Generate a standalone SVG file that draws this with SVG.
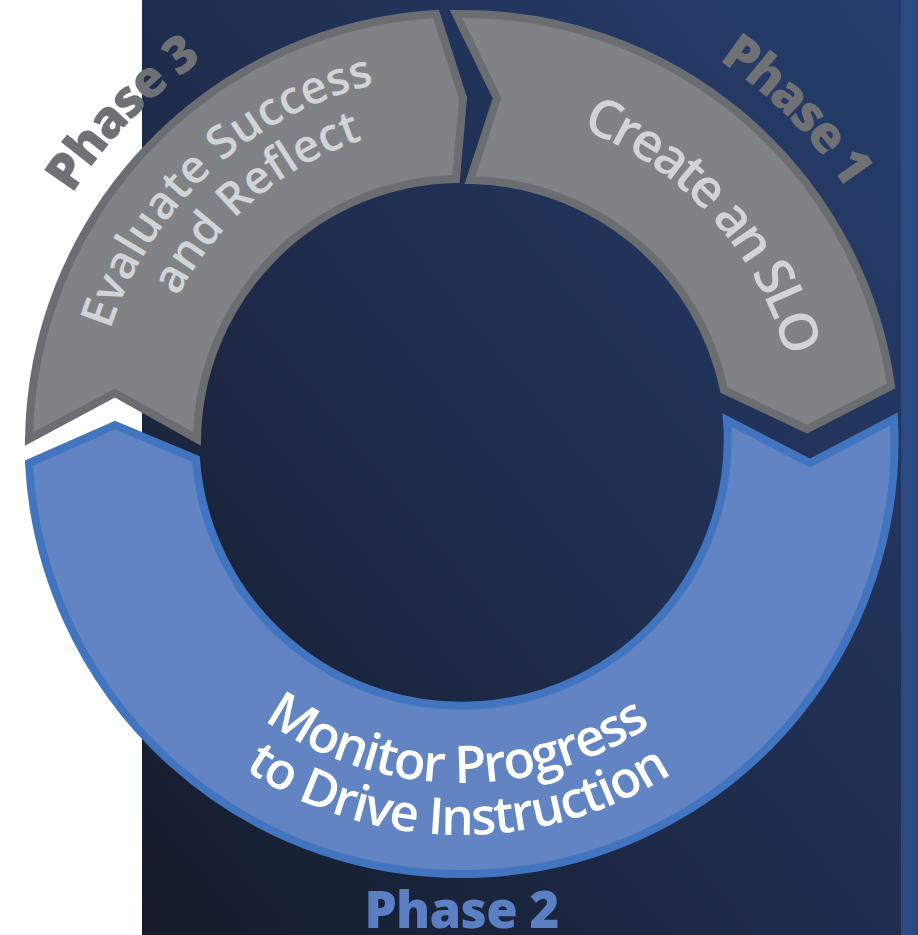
<svg xmlns="http://www.w3.org/2000/svg" width="918" height="935" viewBox="0 0 918 935">
<style>
.lbl{font-family:"Open Sans","Liberation Sans",sans-serif;font-weight:600;}
.ph{font-family:"Open Sans","Liberation Sans",sans-serif;font-weight:800;}
.gray{fill:#818285;stroke:#6c6d70;stroke-width:8;stroke-linejoin:miter;}
.blue{fill:#6284c3;stroke:#4275bf;stroke-width:8;stroke-linejoin:miter;}
.gtxt{fill:#d3d4d6;}
.wtxt{fill:#ffffff;}
.gph{fill:#707174;}
.bph{fill:#5a7fc2;}
</style>
<defs>
<linearGradient id="bg" x1="0" y1="1" x2="1" y2="0">
<stop offset="0" stop-color="#151b29"/>
<stop offset="0.5" stop-color="#1f2d4f"/>
<stop offset="1" stop-color="#263e6d"/>
</linearGradient>
<path id="p-eval1" d="M 101.8,525.4 A 369 369 0 0 1 570.0,90.3"/>
<path id="p-eval2" d="M 147.7,500.6 A 319 319 0 0 1 568.5,142.5"/>
<path id="p-create" d="M 392.2,114.2 A 336 336 0 0 1 780.9,547.4"/>
<path id="p-mon1" d="M 164.7,608.9 A 340 340 0 0 0 753.5,617.1"/>
<path id="p-mon2" d="M 120.1,635.7 A 392 392 0 0 0 799.1,642.2"/>
<path id="p-ph1" d="M 344.1,-2.8 A 461 461 0 0 1 906.3,564.3"/>
<path id="p-ph3" d="M 16.7,568.0 A 462 462 0 0 1 575.6,-4.7"/>
</defs>
<rect x="0" y="0" width="918" height="935" fill="#ffffff"/>
<rect x="142" y="0" width="760" height="935" fill="url(#bg)"/>
<rect x="901" y="0" width="16" height="935" fill="#2b4a84"/>
<rect x="917" y="0" width="1" height="935" fill="#22396a"/>
<g id="connectors"></g>
<g id="phase3">
<path class="gray" d="M 29,439 A 432 432 0 0 1 436,14 L 463,98 L 456,179 A 264 264 0 0 0 197,439 L 115,393 Z"/>
<text class="lbl gtxt" font-size="46"><textPath href="#p-eval1" startOffset="50%" text-anchor="middle" textLength="377" lengthAdjust="spacing">Evaluate Success</textPath></text>
<text class="lbl gtxt" font-size="46"><textPath href="#p-eval2" startOffset="50%" text-anchor="middle" textLength="249" lengthAdjust="spacing">and Reflect</textPath></text>
<text class="ph gph" font-size="51"><textPath href="#p-ph3" startOffset="50%" text-anchor="middle" textLength="189" lengthAdjust="spacing">Phase 3</textPath></text>
</g>
<g id="phase1">
<path class="gray" d="M 456,14 A 432 432 0 0 1 891,386 L 807,429 L 724,390 A 264 264 0 0 0 470,180 L 497,98 Z"/>
<text class="lbl gtxt" font-size="53"><textPath href="#p-create" startOffset="50%" text-anchor="middle" textLength="319" lengthAdjust="spacing">Create an SLO</textPath></text>
<text class="ph gph" font-size="51"><textPath href="#p-ph1" startOffset="50%" text-anchor="middle" textLength="183" lengthAdjust="spacing">Phase 1</textPath></text>
</g>
<g id="phase2">
<path class="blue" d="M 894,419 A 432 432 0 1 1 29,463 L 115,425 L 196,459 A 264 264 0 1 0 727,420 L 810,463 Z"/>
<text class="lbl wtxt" font-size="52"><textPath href="#p-mon1" startOffset="50%" text-anchor="middle" textLength="412" lengthAdjust="spacing">Monitor Progress</textPath></text>
<text class="lbl wtxt" font-size="51"><textPath href="#p-mon2" startOffset="50%" text-anchor="middle" textLength="453" lengthAdjust="spacing">to Drive Instruction</textPath></text>
<text class="ph bph" x="462" y="928" font-size="51" text-anchor="middle" textLength="195" lengthAdjust="spacing">Phase 2</text>
</g>
</svg>
